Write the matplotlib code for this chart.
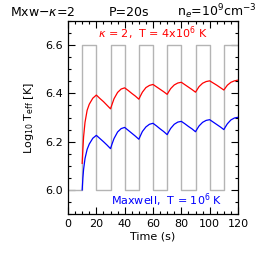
'''effective temperature of a loop heated with period 20 s
'''
import numpy as np
import matplotlib
matplotlib.use('Agg')
import matplotlib.pyplot as plt
from matplotlib.ticker import MultipleLocator

# heating on/off square wave (log T of the driver)
wave_t = [0, 10, 20, 30, 40, 50, 60, 70, 80, 90, 100, 110, 120]
wave_logt = [6.0, 6.6, 6.0, 6.6, 6.0, 6.6, 6.0, 6.6, 6.0, 6.6, 6.0, 6.6, 6.6]

time = [10, 10.5, 11, 12, 13.5, 15, 17.5, 20,
        22.5, 25, 27.5, 30, 31, 32.5, 35, 37.5, 40,
        42.5, 45, 47.5, 50, 51, 52.5, 55, 57.5, 60,
        62.5, 65, 67.5, 70, 71, 72.5, 75, 77.5, 80,
        82.5, 85, 87.5, 90, 91, 92.5, 95, 97.5, 100,
        102.5, 105, 107.5, 110, 111, 112.5, 115, 117.5, 120]

teff_kappa = [6.110, 6.170, 6.220, 6.280, 6.330, 6.355, 6.380, 6.393,
              6.379, 6.366, 6.351, 6.336, 6.353, 6.378, 6.404, 6.418, 6.423,
              6.412, 6.400, 6.389, 6.376, 6.388, 6.405, 6.424, 6.433, 6.437,
              6.427, 6.417, 6.407, 6.396, 6.406, 6.420, 6.435, 6.443, 6.446,
              6.436, 6.426, 6.416, 6.405, 6.414, 6.428, 6.442, 6.449, 6.452,
              6.443, 6.434, 6.424, 6.414, 6.422, 6.434, 6.446, 6.452, 6.455]

teff_maxw = [6.000, 6.050, 6.085, 6.130, 6.168, 6.190, 6.214, 6.226,
             6.213, 6.200, 6.186, 6.171, 6.189, 6.213, 6.240, 6.254, 6.259,
             6.247, 6.235, 6.223, 6.210, 6.223, 6.242, 6.261, 6.272, 6.276,
             6.265, 6.253, 6.242, 6.229, 6.240, 6.255, 6.272, 6.281, 6.284,
             6.274, 6.263, 6.253, 6.241, 6.251, 6.265, 6.280, 6.288, 6.291,
             6.281, 6.271, 6.261, 6.250, 6.260, 6.274, 6.290, 6.298, 6.301]

plt.rcParams['font.family'] = ['DejaVu Sans']
plt.rcParams['mathtext.fontset'] = 'dejavusans'

fig = plt.figure(figsize=(2.58, 2.58), dpi=100)
ax = fig.add_axes([0.2636, 0.1705, 0.6589, 0.7481])

ax.plot(wave_t, wave_logt, drawstyle='steps-post', color='#b4b4b4', linewidth=1)
ax.plot(time, teff_kappa, color='red', linewidth=0.9)
ax.plot(time, teff_maxw, color='blue', linewidth=0.9)

ax.set_xlim(0, 120)
ax.set_ylim(5.9, 6.7)
ax.set_xticks(np.arange(0, 121, 20))
ax.set_yticks([6.0, 6.2, 6.4, 6.6])
ax.set_yticklabels(['6.0', '6.2', '6.4', '6.6'])
ax.xaxis.set_minor_locator(MultipleLocator(5))
ax.yaxis.set_minor_locator(MultipleLocator(0.05))
ax.tick_params(which='both', direction='in', top=True, right=True, labelsize=8, width=0.8)
ax.tick_params(which='major', length=5)
ax.tick_params(which='minor', length=2.5)
for s in ax.spines.values():
    s.set_linewidth(0.9)

ax.set_xlabel('Time (s)', fontsize=8, labelpad=2)
ax.set_ylabel(r'Log$_{10}$ T$_{\rm eff}$ [K]', fontsize=8, labelpad=7)

ax.text(0.5, 0.935, r'$\kappa$ = 2,  T = 4x10$^6$ K', transform=ax.transAxes,
        color='red', fontsize=8, ha='center', va='center')
ax.text(0.58, 0.07, r'Maxwell,  T = 10$^6$ K', transform=ax.transAxes,
        color='blue', fontsize=8, ha='center', va='center')

fig.text(0.04, 0.953, r'Mxw$-\kappa$=2', fontsize=9, ha='left', va='center')
fig.text(0.5, 0.953, 'P=20s', fontsize=9, ha='center', va='center')
fig.text(0.993, 0.953, r'n$_e$=10$^9$cm$^{-3}$', fontsize=9, ha='right', va='center')

fig.savefig('out.png', dpi=100)
